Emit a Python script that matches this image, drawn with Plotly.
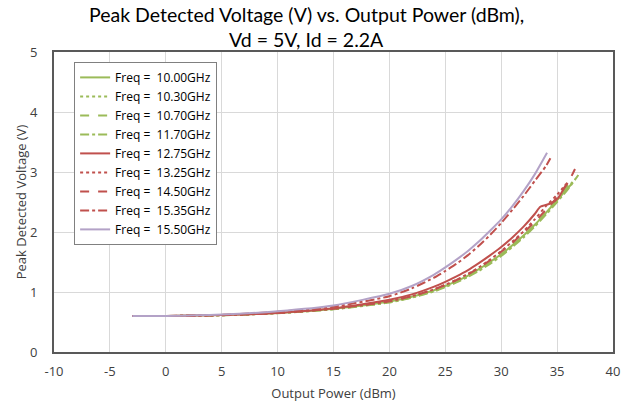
import plotly.graph_objects as go

# Detector output vs. output power, one sweep per frequency
freq_labels = ["10.00GHz", "10.30GHz", "10.70GHz", "11.70GHz", "12.75GHz",
               "13.25GHz", "14.50GHz", "15.35GHz", "15.50GHz"]

x_tick_vals = [-10, -5, 0, 5, 10, 15, 20, 25, 30, 35, 40]
x_tick_text = ["-10", "-5", "0", "5", "10", "15", "20", "25", "30", "35", "40"]
y_tick_vals = [0, 1, 2, 3, 4, 5]

pout_10_00 = [-3, 0, 5, 10, 15, 20, 22, 24, 25, 26, 27, 28, 29, 30, 31, 32, 33, 34, 35, 36, 36.3]
vdet_10_00 = [0.60, 0.60, 0.615, 0.65, 0.72, 0.84, 0.92, 1.03, 1.10, 1.18, 1.27, 1.38, 1.50, 1.63, 1.78, 1.94, 2.12, 2.32, 2.53, 2.74, 2.80]

pout_10_30 = [-3, 0, 5, 10, 15, 20, 22, 24, 25, 26, 27, 28, 29, 30, 31, 32, 33, 34, 35, 36, 36.6]
vdet_10_30 = [0.60, 0.60, 0.612, 0.648, 0.715, 0.83, 0.91, 1.02, 1.09, 1.17, 1.26, 1.37, 1.49, 1.62, 1.77, 1.93, 2.11, 2.31, 2.52, 2.75, 2.88]

pout_10_70 = [-3, 0, 5, 10, 15, 20, 22, 24, 25, 26, 27, 28, 29, 30, 31, 32, 33, 34, 35, 36, 36.5]
vdet_10_70 = [0.60, 0.60, 0.613, 0.649, 0.718, 0.835, 0.915, 1.025, 1.095, 1.175, 1.265, 1.375, 1.495, 1.625, 1.775, 1.94, 2.12, 2.33, 2.55, 2.78, 2.88]

pout_11_70 = [-3, 0, 5, 10, 15, 20, 22, 24, 25, 26, 27, 28, 29, 30, 31, 32, 33, 34, 35, 36, 36.9]
vdet_11_70 = [0.60, 0.60, 0.612, 0.646, 0.712, 0.825, 0.905, 1.01, 1.08, 1.16, 1.25, 1.35, 1.47, 1.60, 1.75, 1.91, 2.09, 2.29, 2.50, 2.72, 2.95]

pout_12_75 = [-3, 0, 5, 10, 15, 20, 22, 24, 25, 26, 27, 28, 29, 30, 31, 32, 33, 33.5, 34.5, 35.1, 35.9]
vdet_12_75 = [0.60, 0.60, 0.615, 0.652, 0.73, 0.87, 0.96, 1.09, 1.17, 1.26, 1.36, 1.48, 1.61, 1.75, 1.91, 2.09, 2.30, 2.42, 2.48, 2.57, 2.82]

pout_13_25 = [-3, 0, 5, 10, 15, 20, 22, 24, 25, 26, 27, 28, 29, 30, 31, 32, 33, 34, 35, 35.8]
vdet_13_25 = [0.60, 0.60, 0.613, 0.65, 0.72, 0.845, 0.93, 1.045, 1.12, 1.20, 1.30, 1.41, 1.54, 1.68, 1.84, 2.01, 2.21, 2.43, 2.62, 2.80]

pout_14_50 = [-3, 0, 5, 10, 15, 20, 22, 24, 25, 26, 27, 28, 29, 30, 31, 32, 33, 34, 35, 36, 36.6]
vdet_14_50 = [0.60, 0.60, 0.614, 0.651, 0.722, 0.845, 0.93, 1.045, 1.12, 1.20, 1.29, 1.40, 1.53, 1.67, 1.82, 1.99, 2.17, 2.37, 2.58, 2.83, 3.05]

pout_15_35 = [-3, 0, 5, 10, 15, 20, 22, 24, 25, 26, 27, 28, 29, 30, 31, 32, 33, 34, 34.4]
vdet_15_35 = [0.60, 0.60, 0.62, 0.67, 0.755, 0.93, 1.06, 1.24, 1.35, 1.47, 1.61, 1.77, 1.95, 2.15, 2.37, 2.60, 2.85, 3.10, 3.23]

pout_15_50 = [-3, 0, 5, 10, 15, 20, 22, 24, 25, 26, 27, 28, 29, 30, 31, 32, 33, 34.1]
vdet_15_50 = [0.60, 0.60, 0.623, 0.68, 0.775, 0.97, 1.10, 1.29, 1.41, 1.54, 1.68, 1.84, 2.02, 2.21, 2.43, 2.68, 2.96, 3.32]

pout_sets = [pout_10_00, pout_10_30, pout_10_70, pout_11_70, pout_12_75,
             pout_13_25, pout_14_50, pout_15_35, pout_15_50]
vdet_sets = [vdet_10_00, vdet_10_30, vdet_10_70, vdet_11_70, vdet_12_75,
             vdet_13_25, vdet_14_50, vdet_15_35, vdet_15_50]

GREEN, RED, PURPLE = "#9BBB59", "#C0504D", "#B3A2C7"
styles = [
    (GREEN, "solid"), (GREEN, "dot"), (GREEN, "dash"), (GREEN, "dashdot"),
    (RED, "solid"), (RED, "dot"), (RED, "dash"), (RED, "dashdot"),
    (PURPLE, "solid"),
]

FONT = "'Open Sans', Lato, sans-serif"
TITLE_FONT = "Lato, 'Open Sans', sans-serif"
TXT = "#404040"

fig = go.Figure()
for label, xs, ys, (col, dash) in zip(freq_labels, pout_sets, vdet_sets, styles):
    fig.add_trace(go.Scatter(
        x=xs, y=ys, mode="lines",
        name="Freq =\u00a0\u00a0" + label,
        line=dict(color=col, dash=dash, width=2, shape="spline", smoothing=0.6),
    ))

# Two-line chart heading
title_lines = ["Peak Detected Voltage (V) vs. Output Power (dBm),", "Vd = 5V, Id = 2.2A"]
for txt, yy in zip(title_lines, [1.125, 1.042]):
    fig.add_annotation(
        text=txt, xref="paper", yref="paper", x=0.451, y=yy,
        xanchor="center", yanchor="middle", showarrow=False,
        font=dict(family=TITLE_FONT, size=19.5, color="#000000"),
    )

fig.update_layout(
    width=631, height=406,
    margin=dict(l=54, r=18, t=52, b=54),
    paper_bgcolor="white", plot_bgcolor="white",
    font=dict(family=FONT, size=13, color=TXT),
    legend=dict(
        x=0.036, y=0.967, xanchor="left", yanchor="top",
        bgcolor="white", bordercolor="#808080", borderwidth=1,
        font=dict(family=FONT, size=12, color="#000000"),
        tracegroupgap=0, itemwidth=30,
    ),
    showlegend=True,
)
fig.update_xaxes(
    range=[-10, 40], tickvals=x_tick_vals, ticktext=x_tick_text,
    showgrid=True, gridcolor="#D9D9D9", gridwidth=1,
    showline=True, linecolor="#595959", linewidth=2, mirror=True,
    zeroline=False, ticks="", ticklabelstandoff=6, automargin=False,
    title=dict(text="Output Power (dBm)", font=dict(size=13, color=TXT), standoff=10),
    tickfont=dict(size=13, color=TXT),
)
fig.update_yaxes(
    range=[0, 5], tickvals=y_tick_vals,
    showgrid=True, gridcolor="#D9D9D9", gridwidth=1,
    showline=True, linecolor="#595959", linewidth=2, mirror=True,
    zeroline=False, ticks="", ticklabelstandoff=12, automargin=False,
    title=dict(text="Peak Detected Voltage (V)", font=dict(size=13, color=TXT), standoff=0),
    tickfont=dict(size=13, color=TXT),
)

fig.write_html("out.html")
